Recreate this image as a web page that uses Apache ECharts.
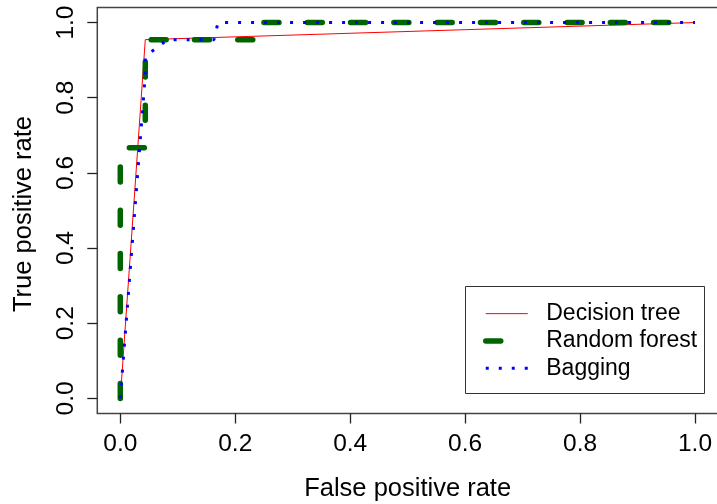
<!DOCTYPE html>
<html>
<head>
<meta charset="utf-8">
<script src="https://cdn.jsdelivr.net/npm/echarts@6/dist/echarts.min.js"></script>
<style>
  html, body { margin: 0; padding: 0; background: #fff; }
  #chart { width: 717px; height: 504px; }
</style>
</head>
<body>
<div id="chart"></div>
<script>
// ROC curves: [false positive rate, true positive rate]
const decisionTree = [[0, 0], [0.0435, 0.9545], [1, 1]];
const randomForest = [[0, 0], [0, 0.667], [0.0435, 0.667], [0.0435, 0.9545], [0.243, 0.9545], [0.243, 1], [1, 1]];
const bagging = [[0, 0], [0.0435, 0.862], [0.0435, 0.91], [0.082, 0.9545], [0.163, 0.9545], [0.17, 1], [1, 1]];
const seriesNames = ['Decision tree', 'Random forest', 'Bagging'];
const tickValues = [0, 0.2, 0.4, 0.6, 0.8, 1.0];

const FONT = '"Liberation Sans", Arial, Helvetica, sans-serif';
const chart = echarts.init(document.getElementById('chart'), null, { renderer: 'canvas' });

const styles = {
  'Decision tree': { color: '#FF0000', width: 1, type: 'solid', cap: 'butt' },
  'Random forest': { color: '#006400', width: 5.5, type: [15, 28.3], cap: 'round', join: 'round' },
  'Bagging': { color: '#0000FF', width: 3, type: [3, 10], cap: 'butt' }
};

function axisCommon(name) {
  return {
    type: 'value',
    min: -0.04,
    max: 1.04,
    name: name,
    nameLocation: 'middle',
    nameTextStyle: { fontFamily: FONT, fontSize: 25.5, color: '#000' },
    axisLine: { show: false, onZero: false },
    splitLine: { show: false },
    axisTick: {
      show: true, length: 10, inside: false,
      customValues: tickValues,
      lineStyle: { color: '#222', width: 1.3 }
    },
    axisLabel: {
      customValues: tickValues,
      formatter: v => v.toFixed(1),
      fontFamily: FONT, fontSize: 24.5, color: '#000'
    }
  };
}

const xAxis = axisCommon('False positive rate');
xAxis.nameGap = 62;
xAxis.axisLabel.margin = 18;

const yAxis = axisCommon('True positive rate');
yAxis.nameGap = 60;
yAxis.nameTextStyle.padding = [0, 7, 0, 0];
yAxis.axisLabel.margin = 19;
yAxis.axisLabel.rotate = 90;

function makeSeries(name, data) {
  const s = styles[name];
  return {
    name: name, type: 'line', data: data,
    symbol: 'none', showSymbol: false,
    lineStyle: s,
    itemStyle: { color: s.color }
  };
}

chart.setOption({
  animation: false,
  backgroundColor: '#fff',
  grid: {
    left: 97.3, top: 7.5, width: 620.7, height: 406,
    show: true, borderColor: '#444', borderWidth: 1.5,
    containLabel: false, outerBoundsMode: 'none'
  },
  xAxis: xAxis,
  yAxis: yAxis,
  legend: {
    orient: 'vertical',
    left: 463, top: 286,
    itemWidth: 42, itemHeight: 14, itemGap: 0,
    padding: [14, 6, 12, 20],
    borderWidth: 0,
    itemStyle: { opacity: 0 },
    data: seriesNames.map(n => ({ name: n, lineStyle: styles[n], itemStyle: { opacity: 0 } })),
    textStyle: { fontFamily: FONT, fontSize: 23, color: '#000', lineHeight: 27.3, padding: [0, 0, 0, 13.5] }
  },
  // frame around the legend
  graphic: [{
    type: 'rect',
    shape: { x: 465.5, y: 286.5, width: 239, height: 107 },
    style: { fill: 'none', stroke: '#333', lineWidth: 1 },
    silent: true
  }],
  series: [
    makeSeries(seriesNames[0], decisionTree),
    makeSeries(seriesNames[1], randomForest),
    makeSeries(seriesNames[2], bagging)
  ]
});
</script>
</body>
</html>
